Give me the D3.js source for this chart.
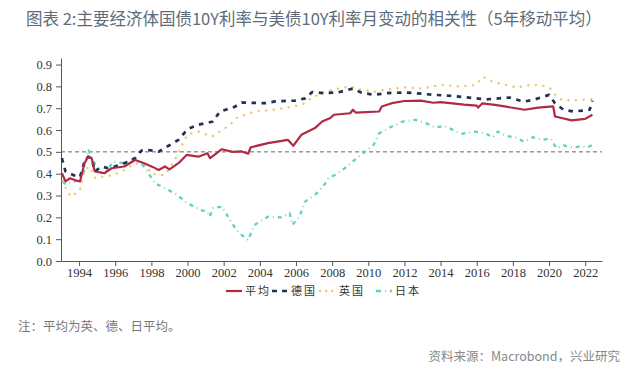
<!DOCTYPE html>
<html>
<head>
<meta charset="utf-8">
<script src="https://cdn.jsdelivr.net/npm/d3@7"></script>
<style>
  body { margin: 0; background: #fff; }
  svg { display: block; }
  .tick text { font-family: "Times New Roman", "Liberation Serif", "DejaVu Serif", serif; font-size: 12.5px; }
</style>
</head>
<body>
<svg id="drawing_region"></svg>
<script>
// monthly correlation, 5y moving average  ([year, value])
const avgSeries = [
  [1993.05,0.402],[1993.25,0.365],[1993.5,0.379],[1993.8,0.37],[1994.05,0.364],[1994.3,0.448],[1994.5,0.478],
  [1994.7,0.47],[1994.87,0.41],[1995.4,0.402],[1995.8,0.425],[1996.5,0.433],[1997.1,0.463],[1997.6,0.448],
  [1998.1,0.43],[1998.4,0.417],[1998.75,0.433],[1999.0,0.42],[1999.5,0.448],[1999.95,0.486],[2000.6,0.478],
  [2001.1,0.494],[2001.25,0.471],[2001.9,0.512],[2002.5,0.5],[2003.0,0.502],[2003.35,0.491],[2003.5,0.521],
  [2004.45,0.54],[2005.55,0.555],[2005.85,0.528],[2006.3,0.578],[2007.05,0.609],[2007.45,0.639],[2007.9,0.655],
  [2008.1,0.67],[2009.0,0.677],[2009.15,0.693],[2009.3,0.68],[2010.6,0.685],[2010.75,0.708],[2011.3,0.723],
  [2012.0,0.733],[2012.9,0.735],[2013.6,0.725],[2014.0,0.728],[2015.3,0.716],[2016.0,0.712],[2016.08,0.703],
  [2016.3,0.722],[2017.0,0.715],[2017.55,0.708],[2018.65,0.693],[2019.4,0.703],[2020.23,0.708],[2020.33,0.662],
  [2020.7,0.655],[2021.25,0.644],[2022.0,0.651],[2022.4,0.67]
];
const deSeries = [
  [1993.05,0.471],[1993.25,0.41],[1993.67,0.394],[1994.05,0.384],[1994.3,0.455],[1994.5,0.478],[1994.7,0.47],
  [1994.87,0.41],[1995.25,0.433],[1995.6,0.425],[1996.3,0.44],[1997.1,0.471],[1997.45,0.506],[1997.7,0.51],
  [1998.4,0.501],[1998.95,0.528],[1999.5,0.555],[2000.0,0.604],[2000.6,0.624],[2001.4,0.639],[2001.8,0.685],
  [2002.6,0.706],[2003.0,0.726],[2004.3,0.723],[2004.85,0.731],[2005.95,0.735],[2006.5,0.745],[2006.9,0.774],
  [2007.5,0.769],[2008.3,0.772],[2009.15,0.79],[2009.6,0.772],[2010.3,0.761],[2011.0,0.769],[2012.0,0.772],
  [2012.6,0.769],[2013.5,0.762],[2014.5,0.757],[2015.9,0.746],[2016.5,0.74],[2017.8,0.749],[2018.6,0.73],
  [2019.2,0.74],[2020.0,0.761],[2020.33,0.723],[2020.8,0.693],[2021.35,0.685],[2022.0,0.69],[2022.25,0.693],
  [2022.4,0.735]
];
const ukSeries = [
  [1993.1,0.368],[1993.3,0.326],[1993.55,0.295],[1993.8,0.31],[1994.05,0.326],[1994.3,0.417],[1994.6,0.433],
  [1994.9,0.379],[1995.3,0.387],[1995.9,0.394],[1996.5,0.417],[1997.1,0.448],[1997.7,0.44],[1998.0,0.4],
  [1998.5,0.394],[1998.75,0.394],[1999.3,0.463],[1999.65,0.524],[2000.0,0.58],[2000.6,0.593],[2001.35,0.57],
  [2001.9,0.6],[2002.3,0.62],[2002.7,0.655],[2003.7,0.685],[2004.8,0.693],[2005.9,0.708],[2006.4,0.72],
  [2006.85,0.746],[2007.4,0.769],[2008.0,0.784],[2009.0,0.8],[2009.6,0.785],[2010.3,0.775],[2011.0,0.785],
  [2012.0,0.795],[2013.0,0.79],[2014.0,0.807],[2015.0,0.8],[2015.9,0.805],[2016.36,0.843],[2016.9,0.82],
  [2017.6,0.807],[2018.2,0.795],[2019.0,0.807],[2019.6,0.805],[2020.05,0.792],[2020.35,0.762],[2020.7,0.738],
  [2021.3,0.735],[2022.0,0.74],[2022.4,0.742]
];
const jpSeries = [
  [1993.1,0.364],[1993.3,0.349],[1993.6,0.36],[1993.9,0.37],[1994.1,0.38],[1994.3,0.417],[1994.5,0.512],
  [1994.7,0.478],[1995.05,0.41],[1995.4,0.402],[1995.9,0.455],[1996.5,0.448],[1997.1,0.47],[1997.45,0.448],
  [1997.9,0.394],[1998.2,0.356],[1998.75,0.333],[1999.3,0.31],[2000.0,0.265],[2000.7,0.234],[2001.1,0.225],
  [2001.23,0.203],[2001.4,0.242],[2001.9,0.249],[2002.24,0.203],[2002.7,0.142],[2003.0,0.119],[2003.35,0.096],
  [2003.7,0.165],[2004.45,0.203],[2005.2,0.2],[2005.65,0.219],[2005.8,0.165],[2006.2,0.203],[2006.5,0.272],
  [2007.05,0.303],[2007.5,0.341],[2007.8,0.38],[2008.15,0.394],[2008.7,0.425],[2009.25,0.463],[2009.8,0.5],
  [2010.3,0.532],[2010.6,0.585],[2011.3,0.616],[2011.9,0.639],[2012.6,0.647],[2013.3,0.628],[2013.7,0.612],
  [2014.2,0.619],[2014.7,0.6],[2015.2,0.583],[2015.9,0.593],[2016.45,0.585],[2016.9,0.567],[2017.17,0.593],
  [2017.65,0.573],[2018.2,0.565],[2018.6,0.547],[2019.1,0.567],[2019.6,0.555],[2020.1,0.56],[2020.4,0.517],
  [2020.8,0.53],[2021.3,0.52],[2021.8,0.525],[2022.1,0.52],[2022.4,0.532]
];

const seriesNames = ['平均', '德国', '英国', '日本'];
const xTickYears = d3.range(1994, 2023, 2);
const yTickValues = d3.range(0, 10).map(d => d / 10);
const refLevel = 0.5;

const titleText = '图表 2:主要经济体国债10Y利率与美债10Y利率月变动的相关性（5年移动平均）';
const noteText = '注：平均为英、德、日平均。';
const sourceText = '资料来源：Macrobond，兴业研究';

const W = 640, H = 375;
const plot = { left: 61, right: 602, top: 58, bottom: 261 };
const cjk = '"Noto Sans CJK SC", sans-serif';

const svg = d3.select('#drawing_region')
    .attr('width', W)
    .attr('height', H);

svg.append('rect').attr('width', W).attr('height', H).attr('fill', '#fff');

const x = d3.scaleLinear().domain([1993.0, 2022.93]).range([plot.left, plot.right]);
const y = d3.scaleLinear().domain([0, 0.93]).range([plot.bottom, plot.top]);

const styles = [
    { color: '#b02a45', width: 2.2, dash: null, legendDash: null, cap: 'butt' },
    { color: '#223150', width: 2.7, dash: '4.5,5.5', legendDash: '5,5', cap: 'butt' },
    { color: '#edc76c', width: 2.4, dash: '0.1,7.5', legendDash: '0.1,6', cap: 'round' },
    { color: '#5fd2c2', width: 2.3, dash: '4,4,0.8,4', legendDash: '5,4,0.8,4', cap: 'butt' }
];
const allSeries = [avgSeries, deSeries, ukSeries, jpSeries];

// title
svg.append('text')
    .attr('x', 26).attr('y', 25)
    .style('font-family', cjk)
    .style('font-size', '16.5px')
    .attr('fill', '#5e6b7a')
    .text(titleText);

// reference line at 0.5
svg.append('line')
    .attr('x1', plot.left).attr('x2', plot.right)
    .attr('y1', y(refLevel)).attr('y2', y(refLevel))
    .attr('stroke', '#666').attr('stroke-width', 1)
    .attr('stroke-dasharray', '4,3');

// axes
const xAxis = svg.append('g')
    .attr('transform', `translate(0,${plot.bottom})`)
    .call(d3.axisBottom(x).tickValues(xTickYears).tickFormat(d3.format('d'))
        .tickSize(5).tickSizeOuter(0).tickPadding(2));
const yAxis = svg.append('g')
    .attr('transform', `translate(${plot.left},0)`)
    .call(d3.axisLeft(y).tickValues(yTickValues).tickFormat(d3.format('.1f'))
        .tickSize(5).tickSizeOuter(0).tickPadding(4));

[xAxis, yAxis].forEach(g => {
    g.attr('font-family', null).attr('font-size', null);
    g.selectAll('path, line').attr('stroke', '#555').attr('stroke-width', 1);
    g.selectAll('text').attr('fill', '#333');
});

// series lines
const line = d3.line()
    .x(d => x(d[0]))
    .y(d => y(d[1]));

// draw order: Japan, UK, Germany, average on top
[3, 2, 1, 0].forEach(i => {
    const s = styles[i];
    svg.append('path')
        .datum(allSeries[i])
        .attr('fill', 'none')
        .attr('stroke', s.color)
        .attr('stroke-width', s.width)
        .attr('stroke-dasharray', s.dash)
        .attr('stroke-linecap', s.cap)
        .attr('stroke-linejoin', 'round')
        .attr('d', line);
});

// legend
const legend = svg.append('g').attr('transform', 'translate(226,291)');
const itemX = [0, 46, 94, 150];
seriesNames.forEach((name, i) => {
    const s = styles[i];
    const g = legend.append('g').attr('transform', `translate(${itemX[i]},0)`);
    g.append('line')
        .attr('x1', 0).attr('x2', 16).attr('y1', 0).attr('y2', 0)
        .attr('stroke', s.color)
        .attr('stroke-width', s.width)
        .attr('stroke-dasharray', s.legendDash)
        .attr('stroke-linecap', s.cap);
    g.append('text')
        .attr('x', 19).attr('y', 4)
        .style('font-family', cjk)
        .style('font-size', '11px')
        .attr('letter-spacing', 2)
        .attr('fill', '#333')
        .text(name);
});

// notes
svg.append('text')
    .attr('x', 18).attr('y', 331)
    .style('font-family', cjk)
    .style('font-size', '12.5px')
    .attr('fill', '#777')
    .text(noteText);

svg.append('text')
    .attr('x', 620).attr('y', 361)
    .attr('text-anchor', 'end')
    .style('font-family', cjk)
    .style('font-size', '12.5px')
    .attr('fill', '#888')
    .text(sourceText);
</script>
</body>
</html>
